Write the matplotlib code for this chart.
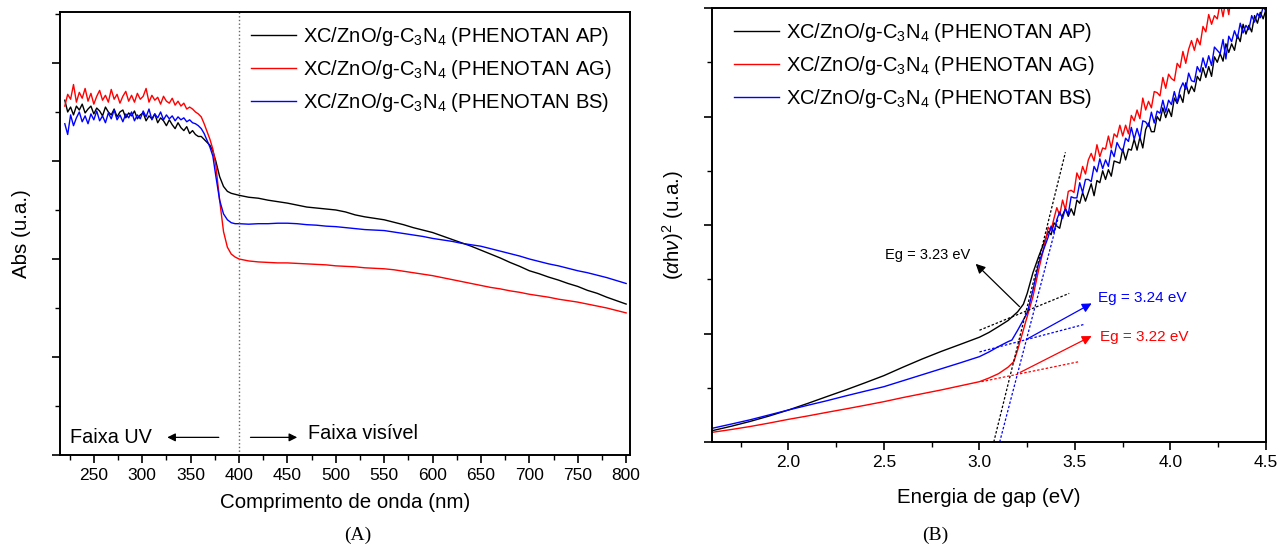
import numpy as np
import matplotlib
matplotlib.use("Agg")
import matplotlib.pyplot as plt
from matplotlib.ticker import MultipleLocator

plt.rcParams["font.family"] = ["Liberation Sans", "DejaVu Sans"]
plt.rcParams["mathtext.fontset"] = "custom"
plt.rcParams["mathtext.rm"] = "Liberation Sans"
plt.rcParams["mathtext.it"] = "Liberation Sans:italic"

# ---- panel A: absorbance vs wavelength (arbitrary units)
wl_uv = [220, 223, 226, 229, 232, 235, 238, 241, 244, 247, 250, 253, 256, 259,
         262, 265, 268, 271, 274, 277, 280, 283, 286, 289, 292, 295, 298, 301,
         304, 307, 310, 313, 316, 319, 322, 325, 328, 331, 334, 337, 340, 343,
         346, 349, 352, 355, 358, 361, 364, 367]
wl_vis = [370, 373, 376, 380, 384, 388, 392, 396, 400, 410, 420, 430, 440, 450,
          460, 470, 480, 490, 500, 510, 520, 530, 540, 550, 560, 570, 580, 590,
          600, 610, 620, 630, 640, 650, 660, 670, 680, 690, 700, 710, 720, 730,
          740, 750, 760, 770, 780, 790, 800]
wl = wl_uv + wl_vis

abs_ap = [3.62, 3.50, 3.55, 3.47, 3.56, 3.52, 3.58, 3.49, 3.53, 3.56, 3.48, 3.54,
          3.51, 3.46, 3.55, 3.50, 3.47, 3.53, 3.45, 3.50, 3.52, 3.44, 3.49, 3.46,
          3.51, 3.43, 3.47, 3.49, 3.41, 3.46, 3.43, 3.48, 3.39, 3.44, 3.41, 3.36,
          3.42, 3.37, 3.33, 3.39, 3.34, 3.31, 3.35, 3.28, 3.31, 3.27, 3.25, 3.25,
          3.22, 3.19,
          3.16, 3.10, 3.00, 2.84, 2.74, 2.69, 2.67, 2.66, 2.65, 2.63, 2.62, 2.60,
          2.585, 2.57, 2.55, 2.53, 2.52, 2.51, 2.50, 2.48, 2.45, 2.43, 2.415, 2.40,
          2.375, 2.35, 2.32, 2.295, 2.27, 2.235, 2.20, 2.165, 2.13, 2.09, 2.05,
          2.01, 1.965, 1.925, 1.88, 1.85, 1.815, 1.785, 1.75, 1.72, 1.68, 1.65,
          1.61, 1.575, 1.54]
abs_ag = [3.56, 3.68, 3.63, 3.78, 3.60, 3.70, 3.64, 3.74, 3.61, 3.69, 3.58, 3.66,
          3.72, 3.62, 3.67, 3.60, 3.73, 3.63, 3.68, 3.59, 3.66, 3.71, 3.61, 3.67,
          3.60, 3.69, 3.63, 3.66, 3.74, 3.60, 3.67, 3.62, 3.65, 3.58, 3.66, 3.61,
          3.59, 3.64, 3.57, 3.61, 3.56, 3.59, 3.53, 3.55, 3.53, 3.50, 3.48, 3.45,
          3.38, 3.30,
          3.22, 3.12, 2.96, 2.60, 2.28, 2.12, 2.05, 2.02, 2.00, 1.98, 1.97, 1.965,
          1.96, 1.96, 1.955, 1.95, 1.945, 1.94, 1.93, 1.925, 1.92, 1.91, 1.905,
          1.90, 1.89, 1.875, 1.86, 1.845, 1.83, 1.81, 1.79, 1.77, 1.75, 1.73, 1.71,
          1.695, 1.675, 1.66, 1.64, 1.625, 1.61, 1.59, 1.575, 1.56, 1.54, 1.52,
          1.50, 1.475, 1.45]
abs_bs = [3.38, 3.27, 3.47, 3.36, 3.44, 3.50, 3.40, 3.46, 3.38, 3.48, 3.42, 3.51,
          3.41, 3.46, 3.39, 3.49, 3.43, 3.52, 3.42, 3.47, 3.40, 3.48, 3.44, 3.50,
          3.41, 3.47, 3.43, 3.51, 3.45, 3.53, 3.42, 3.48, 3.44, 3.50, 3.42, 3.47,
          3.43, 3.46, 3.41, 3.45, 3.42, 3.44, 3.40, 3.42, 3.39, 3.38, 3.36, 3.33,
          3.28, 3.21,
          3.14, 3.05, 2.85, 2.60, 2.46, 2.40, 2.37, 2.36, 2.36, 2.355, 2.36, 2.36,
          2.365, 2.365, 2.36, 2.35, 2.345, 2.335, 2.33, 2.32, 2.31, 2.30, 2.295,
          2.29, 2.275, 2.26, 2.245, 2.23, 2.21, 2.195, 2.18, 2.16, 2.145, 2.13,
          2.105, 2.08, 2.055, 2.03, 2.00, 1.975, 1.95, 1.93, 1.905, 1.88, 1.86,
          1.835, 1.81, 1.78, 1.75]

# ---- panel B: Tauc plot
e_hi = [3.360, 3.375, 3.390, 3.405, 3.420, 3.435, 3.450, 3.465, 3.480, 3.495,
        3.510, 3.525, 3.540, 3.555, 3.570, 3.585, 3.600, 3.615, 3.630, 3.645,
        3.660, 3.675, 3.690, 3.705, 3.720, 3.735, 3.750, 3.765, 3.780, 3.795,
        3.810, 3.825, 3.840, 3.855, 3.870, 3.885, 3.900, 3.915, 3.930, 3.945,
        3.960, 3.975, 3.990, 4.005, 4.020, 4.035, 4.050, 4.065, 4.080, 4.095,
        4.110, 4.125, 4.140, 4.155, 4.170, 4.185, 4.200, 4.215, 4.230, 4.245,
        4.260, 4.275, 4.290, 4.305, 4.320, 4.335, 4.350, 4.365, 4.380, 4.395,
        4.410, 4.425, 4.440, 4.455, 4.470, 4.485, 4.500]

e_ap = [1.60, 1.70, 1.80, 1.90, 2.00, 2.10, 2.20, 2.30, 2.40, 2.50, 2.60, 2.70,
        2.80, 2.90, 3.00, 3.05, 3.10, 3.15, 3.20, 3.23, 3.25, 3.28, 3.31, 3.35] + e_hi
t_ap = [0.104, 0.145, 0.19, 0.24, 0.295, 0.355, 0.418, 0.48, 0.545, 0.612, 0.69,
        0.765, 0.835, 0.90, 0.966, 1.01, 1.064, 1.12, 1.20, 1.27, 1.37, 1.56,
        1.71, 1.89,
        1.94, 1.91, 2.02, 1.99, 1.97, 2.09, 2.15, 2.08, 2.15, 2.09, 2.23, 2.20,
        2.30, 2.22, 2.30, 2.38, 2.27, 2.41, 2.39, 2.50, 2.42, 2.51, 2.45, 2.59,
        2.58, 2.57, 2.70, 2.60, 2.70, 2.69, 2.79, 2.69, 2.81, 2.71, 2.88, 2.94,
        2.86, 2.86, 3.00, 2.96, 3.08, 2.99, 3.07, 3.00, 3.17, 3.12, 3.20, 3.13,
        3.31, 3.21, 3.28, 3.23, 3.37, 3.33, 3.45, 3.36, 3.46, 3.37, 3.55, 3.50,
        3.58, 3.51, 3.67, 3.59, 3.67, 3.61, 3.75, 3.69, 3.85, 3.76, 3.84, 3.78,
        3.93, 3.86, 3.96, 3.90, 3.99]

e_ag = [1.60, 1.70, 1.80, 1.90, 2.00, 2.10, 2.20, 2.30, 2.40, 2.50, 2.60, 2.70,
        2.80, 2.90, 3.00, 3.05, 3.10, 3.15, 3.18, 3.20, 3.24, 3.28, 3.31,
        3.35] + e_hi[:67]
t_ag = [0.089, 0.115, 0.143, 0.175, 0.209, 0.24, 0.273, 0.305, 0.338, 0.372,
        0.41, 0.445, 0.48, 0.518, 0.556, 0.59, 0.63, 0.69, 0.741, 0.849, 1.095,
        1.34, 1.587, 1.89,
        1.98, 1.95, 2.06, 2.16, 2.09, 2.23, 2.14, 2.31, 2.32, 2.30, 2.48, 2.42,
        2.54, 2.47, 2.60, 2.66, 2.59, 2.74, 2.63, 2.71, 2.70, 2.82, 2.71, 2.84,
        2.81, 2.92, 2.82, 2.92, 2.84, 3.01, 2.96, 3.06, 2.98, 3.17, 3.06, 3.14,
        3.08, 3.23, 3.22, 3.19, 3.36, 3.26, 3.39, 3.35, 3.33, 3.49, 3.45, 3.60,
        3.49, 3.62, 3.70, 3.61, 3.72, 3.66, 3.83, 3.78, 3.94, 3.85, 3.93, 3.90,
        4.05, 3.92, 4.08, 3.94, 4.14, 4.05, 4.15]

e_bs = [1.60, 1.70, 1.80, 1.90, 2.00, 2.10, 2.20, 2.30, 2.40, 2.50, 2.60, 2.70,
        2.80, 2.90, 3.00, 3.05, 3.10, 3.15, 3.17, 3.20, 3.25, 3.28, 3.31] + e_hi
t_bs = [0.126, 0.165, 0.205, 0.25, 0.295, 0.338, 0.38, 0.425, 0.468, 0.51,
        0.565, 0.62, 0.675, 0.73, 0.787, 0.83, 0.88, 0.925, 0.94, 1.03, 1.19,
        1.40, 1.65,
        1.89, 1.99, 1.93, 2.05, 2.12, 2.06, 2.15, 2.10, 2.26, 2.25, 2.25, 2.39,
        2.30, 2.42, 2.42, 2.40, 2.54, 2.49, 2.61, 2.52, 2.60, 2.54, 2.69, 2.63,
        2.76, 2.71, 2.68, 2.80, 2.77, 2.90, 2.79, 2.89, 2.80, 2.96, 2.95, 2.91,
        3.04, 2.94, 3.05, 3.03, 3.15, 3.04, 3.15, 3.11, 3.23, 3.13, 3.25, 3.31,
        3.25, 3.40, 3.33, 3.32, 3.46, 3.41, 3.54, 3.45, 3.56, 3.47, 3.64, 3.61,
        3.58, 3.71, 3.53, 3.74, 3.69, 3.79, 3.72, 3.86, 3.77, 3.84, 3.80, 3.93,
        3.87, 3.95, 3.91, 4.01, 3.97]

# tangent (extrapolation) lines: colour, (E0, E1), (y0, y1)
fit_lines = [
    ("k", (3.075, 3.45), (0.0, 2.67)),
    ("b", (3.106, 3.41), (0.0, 2.05)),
    ("k", (3.00, 3.47), (1.03, 1.37)),
    ("b", (3.00, 3.55), (0.83, 1.085)),
    ("r", (3.01, 3.52), (0.556, 0.74)),
]

LABELS = [r"XC/ZnO/g-C$_3$N$_4$ (PHENOTAN AP)",
          r"XC/ZnO/g-C$_3$N$_4$ (PHENOTAN AG)",
          r"XC/ZnO/g-C$_3$N$_4$ (PHENOTAN BS)"]
COLORS = ["black", "#ff0000", "#0000ff"]

fig = plt.figure(figsize=(12.81, 5.48), dpi=100)
axA = fig.add_axes([0.0468, 0.1697, 0.4450, 0.8084])
axB = fig.add_axes([0.5558, 0.1934, 0.4325, 0.7920])


def style(ax, major, minor):
    for s in ax.spines.values():
        s.set_linewidth(1.4)
    ax.xaxis.set_major_locator(MultipleLocator(major))
    ax.xaxis.set_minor_locator(MultipleLocator(minor))
    ax.yaxis.set_major_locator(MultipleLocator(1.0))
    ax.yaxis.set_minor_locator(MultipleLocator(0.5))
    ax.tick_params(which="major", direction="out", length=6, width=1.2,
                   labelsize=12.5, top=False, right=False)
    ax.tick_params(which="minor", direction="out", length=3.5, width=1.0,
                   top=False, right=False)
    ax.tick_params(axis="y", labelleft=False)


legend_kw = dict(frameon=False, fontsize=14.5, handlelength=2.25,
                 handletextpad=0.35, labelspacing=0.5, borderaxespad=0.0)

# ---- A
for y, c, lab in zip([abs_ap, abs_ag, abs_bs], COLORS, LABELS):
    axA.plot(wl, y, color=c, lw=1.0, label=lab)
axA.axvline(400, color="0.4", ls=":", lw=1.0)
axA.set_xlim(215, 804)
axA.set_ylim(0, 4.52)
style(axA, 50, 25)
axA.set_xlabel("Comprimento de onda (nm)", fontsize=14.8, labelpad=7)
axA.set_ylabel("Abs (u.a.)", fontsize=14.8, labelpad=14)
axA.text(225, 0.18, "Faixa UV", fontsize=14.3, va="center", ha="left")
axA.text(471, 0.22, "Faixa visível", fontsize=14.3, va="center", ha="left")
axA.annotate("", xy=(323, 0.18), xytext=(382, 0.18),
             arrowprops=dict(arrowstyle="-|>", color="k", lw=0.9,
                             mutation_scale=12))
axA.annotate("", xy=(463, 0.18), xytext=(409, 0.18),
             arrowprops=dict(arrowstyle="-|>", color="k", lw=0.9,
                             mutation_scale=12))
axA.legend(loc="upper right", bbox_to_anchor=(0.982, 0.989), **legend_kw)

# ---- B
for e, y, c, lab in zip([e_ap, e_ag, e_bs], [t_ap, t_ag, t_bs], COLORS, LABELS):
    axB.plot(e, y, color=c, lw=1.0, label=lab)
for c, xs, ys in fit_lines:
    axB.plot(xs, ys, color=c, ls=(0, (2, 1.5)), lw=0.9)
axB.set_xlim(1.6, 4.5)
axB.set_ylim(0, 4.0)
style(axB, 0.5, 0.25)
axB.set_xlabel("Energia de gap (eV)", fontsize=14.8, labelpad=13)
axB.set_ylabel(r"($\alpha$h$\nu$)$^2$ (u.a.)", fontsize=14.8, labelpad=12)

arrows = [
    ("Eg = 3.23 eV", "k", (2.73, 1.725), (3.22, 1.23), (2.97, 1.66), "center", 10.5),
    ("Eg = 3.24 eV", "#0000ff", (3.62, 1.33), (3.24, 0.94), (3.60, 1.29), "left", 11),
    ("Eg = 3.22 eV", "#ff0000", (3.63, 0.97), (3.20, 0.63), (3.60, 0.988), "left", 11),
]
for txt, c, pos, tail, head, ha, fs in arrows:
    axB.text(pos[0], pos[1], txt, color=c, fontsize=fs, ha=ha, va="center")
    axB.annotate("", xy=head, xytext=tail,
                 arrowprops=dict(arrowstyle="-|>", color=c, lw=0.9,
                                 mutation_scale=14))
axB.legend(loc="upper left", bbox_to_anchor=(0.0253, 0.9885), **legend_kw)

fig.text(358 / 1281, 1 - 535 / 548, "(A)", family="Liberation Serif",
         fontsize=14, ha="center", va="center")
fig.text(935 / 1281, 1 - 535 / 548, "(B)", family="Liberation Serif",
         fontsize=14, ha="center", va="center")

fig.savefig("out.png", dpi=100)
